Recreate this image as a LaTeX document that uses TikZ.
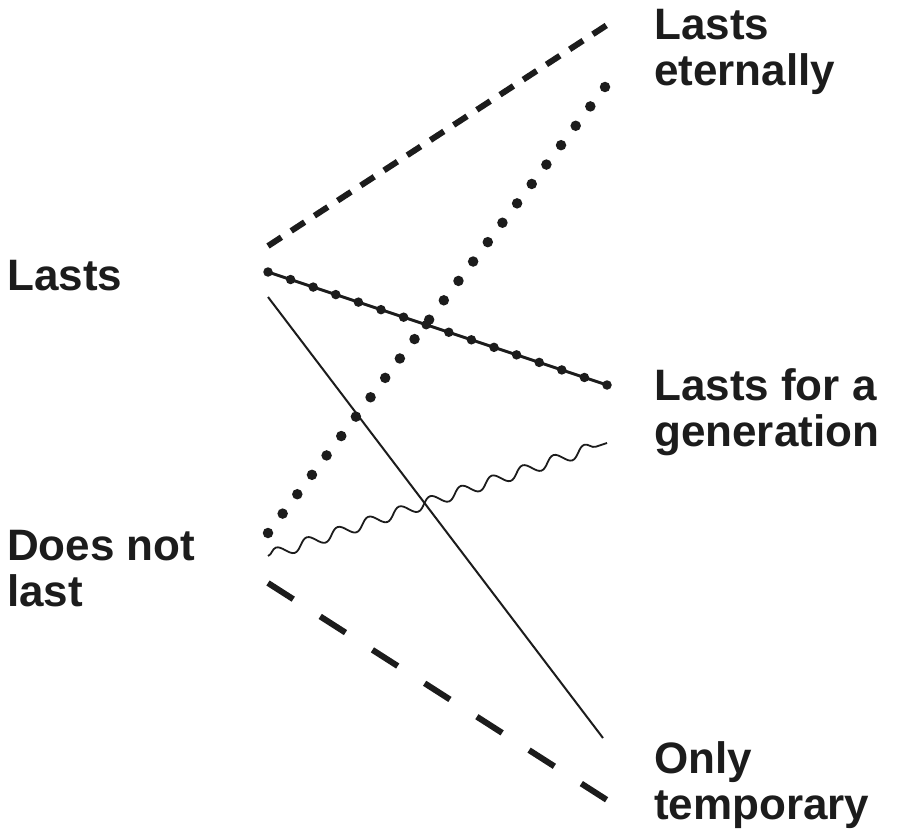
\documentclass[tikz,border=0pt]{standalone}
\usepackage{fontspec}
\setmainfont{Liberation Sans}
\usetikzlibrary{calc,decorations.pathmorphing}
\definecolor{ink}{HTML}{1C1C1C}
\tikzset{
  lbl/.style={anchor=north west,inner sep=0pt,align=left,text=ink,
    font=\bfseries\fontsize{44}{46}\selectfont},
  shortdash/.style={draw=ink,line width=6pt,dash pattern=on 16pt off 11.7pt},
  longdash/.style={draw=ink,line width=6pt,dash pattern=on 30pt off 32pt},
  thinline/.style={draw=ink,line width=2pt},
  beadline/.style={draw=ink,line width=3pt},
  dot/.style={fill=ink,circle,inner sep=0pt,minimum size=#1},
  wavy/.style={draw=ink,line width=1.8pt,decorate,
    decoration={snake,segment length=32.5pt,amplitude=5.5pt}},
}
\begin{document}
\begin{tikzpicture}[x=1pt,y=-1pt]
\useasboundingbox (0,0) rectangle (897,829);
% labels
\node[lbl] (lasts) at (7,260) {Lasts};
\node[lbl] (notlast) at (7,530) {Does not\\last};
\node[lbl] (eternal) at (654,9) {Lasts\\eternally};
\node[lbl] (gen) at (654,368) {Lasts for a\\generation};
\node[lbl] (temp) at (654,741) {Only\\temporary};
% connector end points
\coordinate (aS) at (268,246);  \coordinate (aE) at (607,25);
\coordinate (bS) at (268,533);  \coordinate (bE) at (605,87);
\coordinate (cS) at (268,272);  \coordinate (cE) at (607,385);
\coordinate (dS) at (268,556);  \coordinate (dE) at (607,443);
\coordinate (eS) at (268,297);  \coordinate (eE) at (603,738);
\coordinate (fS) at (268,583);  \coordinate (fE) at (607,800);
% Lasts -> Lasts eternally (short dashes)
\draw[shortdash] (aS) -- (aE);
% Does not last -> Lasts eternally (dots)
\foreach \i in {0,...,23}{
  \node[dot=10.5pt] (b\i) at ($(bS)!\i/23!(bE)$) {};
}
% Lasts -> generation (line with beads)
\draw[beadline] (cS) -- (cE);
\foreach \i in {0,...,15}{
  \node[dot=9.5pt] (c\i) at ($(cS)!\i/15!(cE)$) {};
}
% Does not last -> generation (wavy)
\draw[wavy] (dS) -- (dE);
% Lasts -> Only temporary (thin)
\draw[thinline] (eS) -- (eE);
% Does not last -> Only temporary (long dashes)
\draw[longdash] (fS) -- (fE);
\end{tikzpicture}
\end{document}
